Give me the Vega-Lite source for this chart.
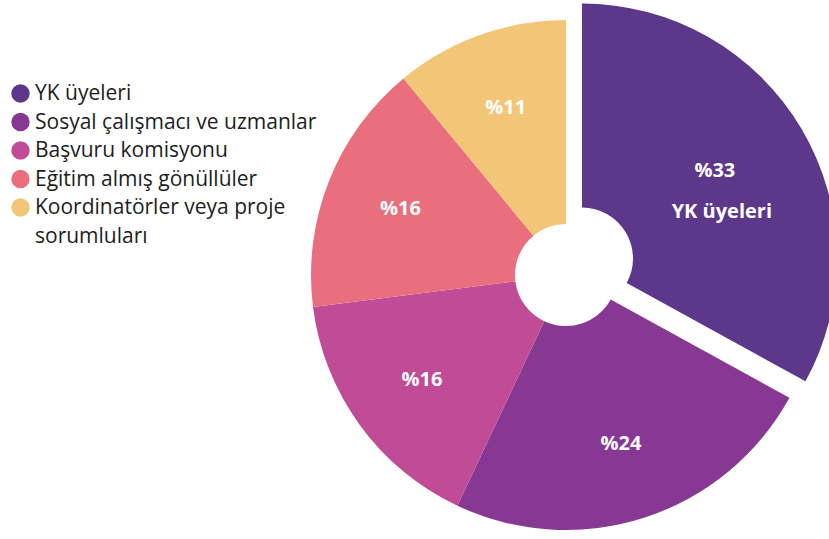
{
  "$schema": "https://vega.github.io/schema/vega-lite/v6.json",
  "width": 526,
  "height": 528,
  "autosize": {"type": "none"},
  "padding": {"left": 303, "top": 11, "right": 0, "bottom": 0},
  "background": "white",
  "config": {
    "view": {"stroke": null},
    "font": "Open Sans",
    "style": {"guide-label": {"lineHeight": 29, "dy": -10.3}}
  },
  "data": {
    "values": [
      {"idx": 1, "cat": "YK üyeleri", "value": 33, "label": "%33"},
      {"idx": 2, "cat": "Sosyal çalışmacı ve uzmanlar", "value": 24, "label": "%24"},
      {"idx": 3, "cat": "Başvuru komisyonu", "value": 16, "label": "%16"},
      {"idx": 4, "cat": "Eğitim almış gönüllüler", "value": 16, "label": "%16"},
      {"idx": 5, "cat": "Koordinatörler veya proje sorumluları", "value": 11, "label": "%11"}
    ]
  },
  "encoding": {
    "theta": {"field": "value", "type": "quantitative", "stack": true},
    "order": {"field": "idx", "type": "quantitative"}
  },
  "layer": [
    {
      "mark": {"type": "arc", "outerRadius": 255, "innerRadius": 51},
      "encoding": {
        "color": {
          "field": "cat",
          "type": "nominal",
          "scale": {
            "domain": ["YK üyeleri", "Sosyal çalışmacı ve uzmanlar", "Başvuru komisyonu", "Eğitim almış gönüllüler", "Koordinatörler veya proje sorumluları"],
            "range": ["#5d388a", "#873893", "#c04b96", "#ea6f7e", "#f3c677"]
          },
          "legend": {
            "orient": "none",
            "legendX": -293,
            "legendY": 72,
            "title": null,
            "padding": 0,
            "symbolType": "circle",
            "symbolSize": 340,
            "symbolStrokeWidth": 0,
            "labelFont": "Open Sans",
            "labelFontSize": 21,
            "labelColor": "#1d1d1b",
            "labelOffset": 4,
            "labelLimit": 400,
            "labelBaseline": "top",
            "rowPadding": 6.5,
            "labelExpr": "datum.label === 'Koordinatörler veya proje sorumluları' ? ['Koordinatörler veya proje', 'sorumluları'] : datum.label"
          }
        },
        "opacity": {"condition": {"test": "datum.cat === 'YK üyeleri'", "value": 0}, "value": 1}
      }
    },
    {
      "mark": {"type": "arc", "outerRadius": 255, "innerRadius": 51, "xOffset": 16, "yOffset": -16.5},
      "encoding": {
        "color": {"field": "cat", "type": "nominal"},
        "opacity": {"condition": {"test": "datum.cat === 'YK üyeleri'", "value": 1}, "value": 0}
      }
    },
    {
      "mark": {"type": "text", "radius": 178, "font": "Open Sans", "fontWeight": "bold", "fontSize": 20, "color": "white"},
      "encoding": {
        "text": {"field": "label"},
        "opacity": {"condition": {"test": "datum.cat === 'YK üyeleri'", "value": 0}, "value": 1}
      }
    },
    {
      "mark": {"type": "text", "radius": 152, "font": "Open Sans", "fontWeight": "bold", "fontSize": 20, "color": "white", "xOffset": 18, "yOffset": -27},
      "encoding": {
        "text": {"field": "label"},
        "opacity": {"condition": {"test": "datum.cat === 'YK üyeleri'", "value": 1}, "value": 0}
      }
    },
    {
      "mark": {"type": "text", "radius": 152, "font": "Open Sans", "fontWeight": "bold", "fontSize": 20, "color": "white", "xOffset": 25, "yOffset": 14},
      "encoding": {
        "text": {"field": "cat"},
        "opacity": {"condition": {"test": "datum.cat === 'YK üyeleri'", "value": 1}, "value": 0}
      }
    }
  ]
}
